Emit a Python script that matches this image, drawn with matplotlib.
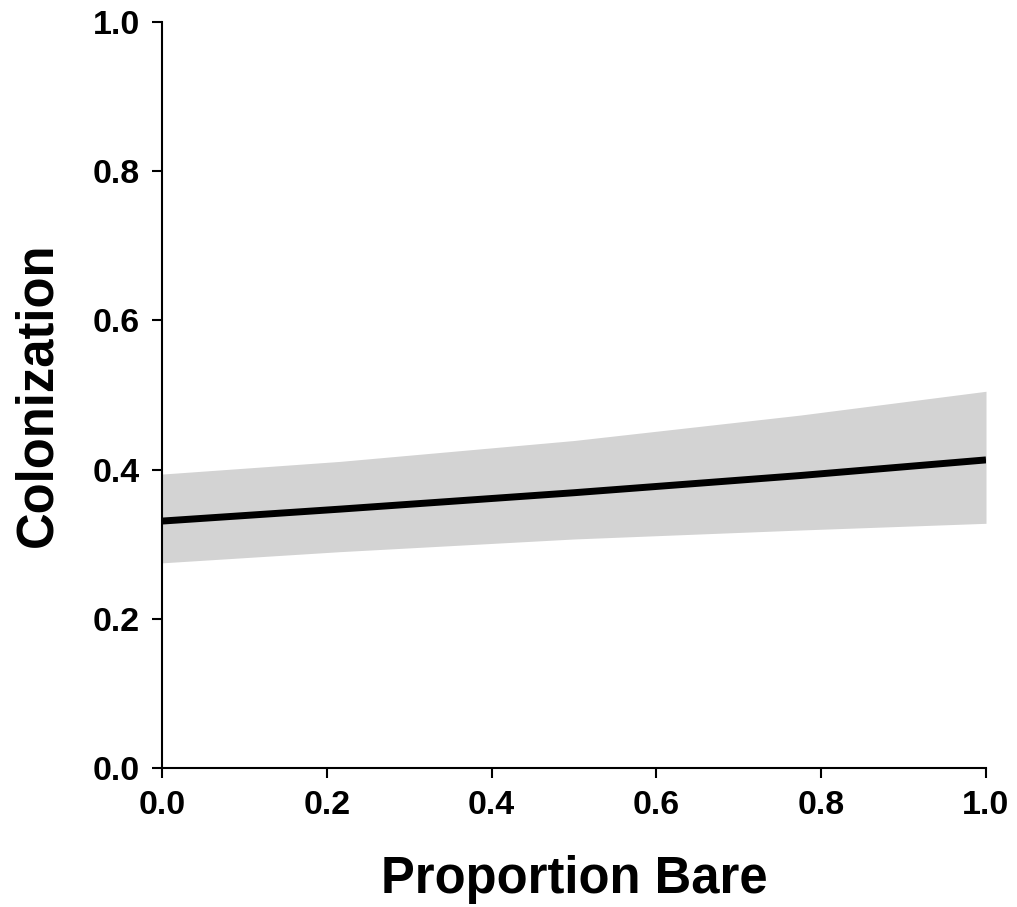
import matplotlib
matplotlib.use("Agg")
import matplotlib.pyplot as plt
import numpy as np

x_vals = [0.0, 0.216, 0.5, 0.774, 1.0]
fit = [0.331, 0.347, 0.369, 0.392, 0.413]
upper = [0.394, 0.411, 0.439, 0.473, 0.505]
lower = [0.275, 0.290, 0.307, 0.319, 0.328]
ticks = [0.0, 0.2, 0.4, 0.6, 0.8, 1.0]
tick_labels = ["0.0", "0.2", "0.4", "0.6", "0.8", "1.0"]

plt.rcParams['font.family'] = ['Liberation Sans', 'DejaVu Sans']

fig = plt.figure(figsize=(10.17, 9.07), dpi=100)
ax = fig.add_axes([162/1017, 1-768/907, (986-162)/1017, (768-22)/907])

ax.fill_between(x_vals, lower, upper, color='#d3d3d3', linewidth=0)
ax.plot(x_vals, fit, color='black', linewidth=5, solid_capstyle='butt')

ax.set_xlim(0, 1)
ax.set_ylim(0, 1)
ax.set_xticks(ticks)
ax.set_xticklabels(tick_labels)
ax.set_yticks(ticks)
ax.set_yticklabels(tick_labels)
for s in ['top', 'right']:
    ax.spines[s].set_visible(False)
for s in ['left', 'bottom']:
    ax.spines[s].set_linewidth(1.5)
ax.tick_params(direction='out', length=7, width=1.5, labelsize=24.5, pad=9)
for lab in ax.get_xticklabels() + ax.get_yticklabels():
    lab.set_fontweight('bold')

ax.set_xlabel('Proportion Bare', fontsize=36.5, fontweight='bold', labelpad=24)
ax.set_ylabel('Colonization', fontsize=36.5, fontweight='bold', labelpad=22)

fig.savefig('out.png', dpi=100)
